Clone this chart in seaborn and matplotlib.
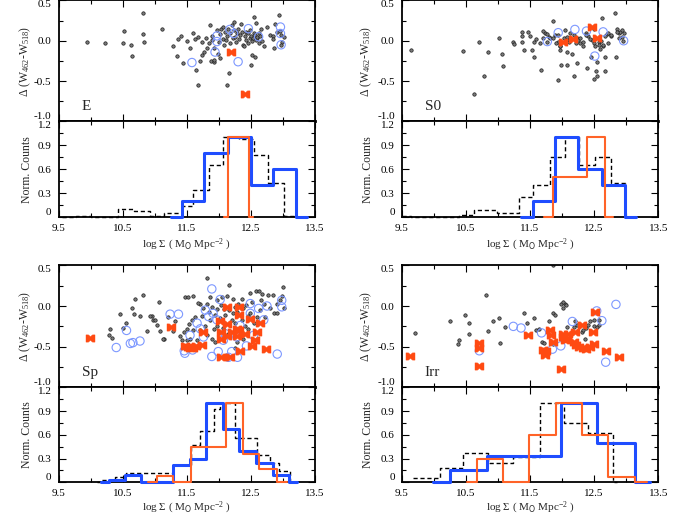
import numpy as np
import pandas as pd
import seaborn as sns
import matplotlib
matplotlib.use("Agg")
import matplotlib.pyplot as plt
from matplotlib.path import Path

# ---- scatter data: (log Sigma, Delta(W462-W518)) ----
e_grey = [(9.95, -0.01), (10.23, -0.03), (10.50, -0.03), (10.52, 0.12), (10.63, -0.05), (10.64, -0.19),
          (10.81, 0.34), (10.81, 0.08), (10.84, -0.02), (11.11, 0.14), (11.28, -0.06), (11.34, -0.19),
          (11.36, 0.02), (11.41, 0.06), (11.44, -0.28), (11.51, 0.00), (11.55, -0.09), (11.59, 0.09),
          (11.63, 0.02), (11.65, -0.36), (11.67, 0.05), (11.68, -0.55), (11.71, -0.25), (11.73, -0.18),
          (11.74, -0.02), (11.77, -0.14), (11.80, 0.03), (11.82, -0.09), (11.85, -0.03), (11.86, 0.19),
          (11.87, -0.25), (11.89, 0.01), (11.90, 0.06), (11.93, -0.09), (11.93, -0.26), (11.97, 0.13),
          (11.98, -0.16), (12.00, -0.01), (12.01, 0.08), (12.02, -0.22), (12.03, 0.15), (12.06, 0.02),
          (12.07, 0.17), (12.08, -0.05), (12.10, 0.11), (12.11, 0.01), (12.12, -0.55), (12.13, 0.06),
          (12.15, 0.15), (12.16, -0.40), (12.17, -0.03), (12.18, 0.09), (12.20, 0.19), (12.22, 0.03),
          (12.23, 0.13), (12.24, 0.23), (12.25, 0.05), (12.27, -0.01), (12.28, 0.09), (12.30, 0.15),
          (12.32, 0.02), (12.33, 0.07), (12.34, 0.21), (12.36, 0.11), (12.37, -0.05), (12.39, -0.07),
          (12.41, 0.06), (12.42, 0.11), (12.43, 0.01), (12.45, -0.03), (12.46, 0.09), (12.48, 0.03),
          (12.49, 0.13), (12.50, 0.06), (12.51, 0.00), (12.52, -0.18), (12.53, 0.04), (12.54, 0.09),
          (12.55, 0.30), (12.56, 0.07), (12.58, 0.22), (12.58, 0.01), (12.59, 0.03), (12.60, 0.05),
          (12.62, 0.09), (12.63, -0.03), (12.64, 0.06), (12.65, 0.15), (12.67, 0.00), (12.71, -0.07),
          (12.75, 0.17), (12.80, 0.07), (12.84, 0.06), (12.85, 0.02), (12.86, -0.09), (12.88, 0.21),
          (12.90, 0.11), (12.94, 0.32), (12.95, 0.12), (12.97, 0.07), (12.98, -0.01), (12.97, -0.05),
          (13.01, 0.05), (12.50, -0.30), (12.56, -0.20), (11.92, -0.24)]
e_circ = [(11.58, -0.27), (11.94, -0.14), (11.97, 0.06), (11.97, -0.01), (12.17, 0.14), (12.23, 0.09),
          (12.30, -0.26), (12.46, 0.15), (12.62, 0.05), (12.96, 0.17), (12.96, 0.09), (12.97, -0.05)]
e_bow = [(12.19, -0.145), (12.41, -0.66)]

s0_grey = [(9.64, -0.11), (10.45, -0.13), (10.62, -0.66), (10.70, -0.02), (10.78, -0.44), (10.84, -0.14),
           (11.02, 0.04), (11.07, -0.17), (11.08, -0.31), (11.24, -0.02), (11.25, -0.04), (11.37, 0.11),
           (11.37, 0.06), (11.37, -0.02), (11.41, -0.12), (11.47, 0.11), (11.50, 0.06), (11.53, -0.12),
           (11.57, -0.20), (11.57, -0.02), (11.60, 0.02), (11.66, -0.03), (11.67, -0.36), (11.71, 0.03),
           (11.73, 0.09), (11.76, -0.01), (11.79, 0.05), (11.86, 0.24), (11.89, 0.07), (11.93, -0.49),
           (11.94, -0.01), (11.96, -0.12), (11.97, -0.07), (11.99, -0.30), (12.03, 0.03), (12.07, -0.14),
           (12.08, -0.30), (12.11, 0.01), (12.12, 0.09), (12.15, -0.16), (12.18, 0.07), (12.19, -0.44),
           (12.23, -0.28), (12.24, 0.03), (12.28, -0.03), (12.33, -0.07), (12.38, 0.09), (12.39, -0.34),
           (12.41, 0.06), (12.45, -0.20), (12.46, 0.01), (12.49, 0.14), (12.50, -0.47), (12.51, 0.03),
           (12.53, -0.38), (12.54, -0.26), (12.55, -0.44), (12.58, -0.01), (12.62, 0.28), (12.64, -0.07),
           (12.67, -0.20), (12.67, -0.37), (12.70, 0.08), (12.72, -0.03), (12.76, 0.06), (12.83, 0.34),
           (12.84, -0.20), (12.85, 0.15), (12.88, 0.09), (12.90, 0.11), (12.93, 0.05), (12.95, 0.00),
           (12.96, 0.09), (11.71, 0.12), (11.76, 0.08), (11.81, 0.03), (11.86, 0.04), (11.91, -0.03),
           (11.94, 0.07), (11.97, -0.07), (12.05, 0.13), (12.07, 0.05), (12.11, -0.01), (12.22, -0.03),
           (12.25, 0.01), (12.28, 0.04), (12.32, -0.02), (12.38, 0.07), (12.43, 0.02), (12.49, -0.03),
           (12.51, -0.07), (12.57, -0.05), (12.59, -0.10), (12.60, 0.00), (12.64, -0.05), (12.67, 0.06),
           (12.72, 0.09), (12.76, 0.07), (12.85, 0.11), (12.89, 0.04), (12.93, 0.13)]
s0_circ = [(11.77, -0.01), (11.94, 0.10), (12.20, 0.14), (12.38, 0.12), (12.51, -0.19), (12.64, 0.11),
           (12.96, 0.00)]
s0_bow = [(12.01, -0.01), (12.17, 0.02), (12.46, 0.17), (12.55, 0.04)]

sp_grey = [(10.28, -0.35), (10.30, -0.28), (10.33, -0.39), (10.46, -0.10), (10.50, -0.27), (10.55, -0.21),
           (10.64, -0.03), (10.67, -0.10), (10.69, 0.09), (10.77, -0.12), (10.81, 0.14), (10.88, -0.31),
           (10.95, -0.12), (10.98, -0.17), (11.03, -0.23), (11.06, 0.05), (11.08, -0.31), (11.14, -0.40),
           (11.21, -0.13), (11.32, -0.19), (11.40, -0.37), (10.93, -0.12), (11.00, -0.17), (11.13, -0.40),
           (11.28, -0.31), (11.47, 0.11), (11.52, 0.11), (11.59, 0.12), (11.82, 0.35), (11.86, 0.11),
           (12.16, 0.26), (12.13, 0.12), (12.22, 0.09), (12.49, 0.16), (12.58, 0.18), (12.62, 0.19),
           (12.68, 0.15), (12.77, 0.14), (12.85, 0.14), (13.00, 0.23), (12.98, 0.12), (12.95, 0.07),
           (13.01, -0.02), (12.86, -0.08), (12.91, -0.09), (12.80, -0.03), (12.72, -0.13), (12.49, -0.09),
           (12.51, 0.05), (12.43, 0.01), (12.38, -0.03), (12.30, 0.03), (12.25, -0.01), (12.22, -0.08),
           (12.16, -0.05), (12.08, -0.04), (12.03, 0.01), (11.97, -0.04), (11.94, -0.11), (11.90, -0.01),
           (11.84, -0.07), (11.76, -0.03), (11.71, 0.03), (11.67, 0.04), (11.63, -0.13), (11.58, -0.17),
           (11.54, -0.22), (11.50, -0.28), (11.45, -0.32), (11.42, -0.42), (11.55, -0.40), (11.66, -0.42),
           (11.71, -0.30), (11.79, -0.24), (11.86, -0.17), (11.92, -0.28), (11.97, -0.24), (12.02, -0.15),
           (12.10, -0.11), (12.20, -0.17), (12.25, -0.21), (12.36, -0.17), (12.41, -0.24), (12.46, -0.28),
           (12.54, -0.21), (12.59, -0.13), (12.64, -0.05), (12.70, 0.03), (11.81, -0.36), (11.89, -0.40),
           (11.94, -0.44), (12.28, -0.44), (12.38, -0.40), (12.25, -0.52), (11.71, -0.48), (11.50, -0.42),
           (11.81, 0.03), (11.97, 0.07), (12.05, 0.11), (12.28, -0.07), (12.36, 0.09), (11.60, -0.30),
           (11.74, -0.12), (12.06, -0.27), (12.15, -0.34), (12.45, -0.12), (12.66, 0.08), (12.90, 0.02)]
sp_circ = [(10.40, -0.51), (10.56, -0.30), (10.62, -0.46), (10.66, -0.45), (10.77, -0.43), (11.24, -0.10),
           (11.37, -0.10), (11.47, -0.58), (11.46, -0.55), (11.89, 0.21), (12.02, 0.08), (11.89, -0.62),
           (12.15, -0.63), (12.29, -0.63), (12.43, -0.49), (12.91, -0.59), (12.98, 0.07), (12.98, -0.01),
           (12.75, 0.00), (12.49, 0.03), (11.66, -0.21), (11.84, -0.13), (11.91, -0.09), (11.55, -0.36),
           (11.59, -0.54), (11.76, -0.38), (11.99, -0.56), (12.20, -0.56), (12.10, -0.34), (12.33, -0.24),
           (12.49, -0.09), (12.62, -0.03), (12.70, -0.17), (12.54, -0.36), (11.97, -0.17), (11.79, -0.05),
           (12.07, -0.42), (11.71, -0.28), (12.28, -0.38)]
sp_bow = [(9.99, -0.39), (11.26, -0.26), (11.47, -0.49), (11.52, -0.50), (11.55, -0.51), (11.60, -0.51),
          (11.65, -0.49), (11.73, -0.48), (11.75, -0.32), (12.01, -0.19), (12.03, -0.32), (12.04, -0.41),
          (12.04, -0.63), (12.13, -0.01), (12.13, -0.22), (12.13, -0.37), (12.18, -0.63), (12.20, -0.32),
          (12.28, -0.28), (12.29, -0.37), (12.32, -0.01), (12.32, -0.11), (12.32, -0.30), (12.33, -0.55),
          (12.41, -0.34), (12.49, -0.16), (12.51, -0.49), (12.56, -0.42), (12.59, -0.32), (12.64, -0.21),
          (12.74, -0.53)]

irr_grey = [(9.71, -0.33), (10.25, -0.19), (10.37, -0.47), (10.39, -0.42), (10.48, -0.11), (10.55, -0.21),
            (10.55, -0.34), (10.81, 0.14), (10.85, -0.31), (10.92, -0.19), (11.02, -0.15), (11.03, -0.45),
            (11.11, -0.26), (11.41, -0.08), (11.45, -0.21), (11.56, -0.15), (11.60, -0.30), (11.64, -0.28),
            (11.68, -0.44), (11.72, -0.46), (11.80, -0.19), (11.86, -0.09), (11.89, -0.11), (11.86, -0.47),
            (11.99, 0.03), (12.01, -0.03), (12.05, 0.03), (12.06, 0.01), (12.07, -0.26), (12.18, -0.26),
            (12.20, -0.19), (12.23, -0.23), (12.31, -0.32), (12.33, -0.30), (12.37, -0.27), (12.41, -0.23),
            (12.44, -0.19), (12.49, -0.17), (12.50, -0.24), (12.54, -0.26), (12.58, -0.23), (12.57, -0.17),
            (11.86, 0.51), (12.36, -0.40), (12.02, 0.05)]
irr_circ = [(10.71, -0.55), (11.24, -0.25), (11.36, -0.27), (11.68, -0.33), (11.85, -0.53), (11.98, -0.49),
            (12.16, -0.19), (12.54, -0.06), (12.62, -0.18), (12.68, -0.69), (12.84, 0.02)]
irr_bow = [(9.63, -0.62), (10.70, -0.46), (10.70, -0.51), (10.71, -0.74), (11.47, -0.36), (11.70, -0.54),
           (11.73, -0.60), (11.75, -0.55), (11.81, -0.30), (11.82, -0.36), (11.86, -0.44), (11.99, -0.77),
           (12.01, -0.38), (12.02, -0.34), (12.05, -0.42), (12.07, -0.40), (12.10, -0.34), (12.18, -0.44),
           (12.20, -0.32), (12.22, -0.48), (12.27, -0.50), (12.31, -0.23), (12.33, -0.52), (12.38, -0.53),
           (12.44, -0.50), (12.48, -0.32), (12.50, -0.47), (12.51, -0.07), (12.68, -0.55), (12.88, -0.63)]

# ---- histograms: step start x and normalized counts (steps-post) ----
e_blue_x = [11.26, 11.42, 11.77, 12.15, 12.50, 12.85, 13.20, 13.37]
e_blue_y = [0, 0.2, 0.8, 1.0, 0.4, 0.6, 0, 0]
e_orng_x = [12.08, 12.15, 12.47, 12.53]
e_orng_y = [0, 1.0, 0, 0]
e_dash_x = [9.55, 9.78, 10.0, 10.43, 10.67, 10.93, 11.14, 11.42, 11.59, 11.85, 12.07, 12.32, 12.54, 12.77, 13.01, 13.22]
e_dash_y = [0, 0.02, 0, 0.1, 0.08, 0.02, 0.06, 0.14, 0.34, 0.65, 1.0, 0.98, 0.78, 0.43, 0.02, 0.02]

s0_blue_x = [11.36, 11.54, 11.89, 12.25, 12.62, 12.98, 13.16]
s0_blue_y = [0, 0.2, 1.0, 0.6, 0.4, 0, 0]
s0_orng_x = [11.72, 11.86, 12.39, 12.67, 12.80]
s0_orng_y = [0, 0.5, 1.0, 0, 0]
s0_dash_x = [9.5, 9.65, 10.4, 10.62, 10.98, 11.33, 11.55, 11.81, 12.05, 12.27, 12.51, 12.76, 12.98, 13.1]
s0_dash_y = [0.02, 0, 0.03, 0.09, 0.06, 0.25, 0.41, 0.75, 1.0, 0.66, 0.75, 0.43, 0, 0]

sp_blue_x = [10.16, 10.28, 10.54, 10.78, 11.29, 11.55, 11.80, 12.06, 12.32, 12.58, 12.85, 13.10, 13.22]
sp_blue_y = [0, 0.03, 0.09, 0, 0.22, 0.3, 1.0, 0.68, 0.4, 0.24, 0.09, 0, 0]
sp_orng_x = [10.9, 11.03, 11.29, 11.56, 12.11, 12.37, 12.63, 12.90, 13.06]
sp_orng_y = [0, 0.08, 0, 0.45, 1.0, 0.36, 0.17, 0, 0]
sp_dash_x = [10.1, 10.17, 10.38, 10.55, 11.29, 11.56, 11.71, 11.92, 12.02, 12.25, 12.59, 12.79, 12.93, 13.11, 13.15]
sp_dash_y = [0, 0.03, 0.07, 0.12, 0.22, 0.47, 0.65, 0.93, 1.0, 0.56, 0.35, 0.25, 0.14, 0, 0]

irr_blue_x = [9.98, 10.25, 10.83, 11.99, 12.55, 13.13, 13.37]
irr_blue_y = [0, 0.16, 0.33, 1.0, 0.5, 0, 0]
irr_orng_x = [10.51, 10.67, 11.08, 11.49, 11.91, 12.31, 12.72, 13.13, 13.33]
irr_orng_y = [0, 0.3, 0, 0.6, 1.0, 0.6, 0.07, 0, 0]
irr_dash_x = [9.68, 10.1, 10.46, 10.85, 11.24, 11.65, 12.03, 12.41, 12.8, 12.85]
irr_dash_y = [0.05, 0.18, 0.37, 0.25, 0.32, 1.0, 0.75, 0.62, 0, 0]

panels = [
    ("E", e_grey, e_circ, e_bow, (e_blue_x, e_blue_y), (e_orng_x, e_orng_y), (e_dash_x, e_dash_y)),
    ("S0", s0_grey, s0_circ, s0_bow, (s0_blue_x, s0_blue_y), (s0_orng_x, s0_orng_y), (s0_dash_x, s0_dash_y)),
    ("Sp", sp_grey, sp_circ, sp_bow, (sp_blue_x, sp_blue_y), (sp_orng_x, sp_orng_y), (sp_dash_x, sp_dash_y)),
    ("Irr", irr_grey, irr_circ, irr_bow, (irr_blue_x, irr_blue_y), (irr_orng_x, irr_orng_y), (irr_dash_x, irr_dash_y)),
]

sns.set_style("ticks")
plt.rcParams["font.family"] = ["Liberation Serif", "DejaVu Serif"]
plt.rcParams["mathtext.default"] = "regular"

BLUE = "#1f4dff"
ORNG = "#ff6328"
BOW = "#ff4a12"
CIRC = "#7d98ff"

# "H"-like bowtie used for the orange points
bowtie = Path([(-1, -0.8), (-0.45, -0.8), (0, -0.4), (0.45, -0.8), (1, -0.8), (1, 0.8),
               (0.45, 0.8), (0, 0.4), (-0.45, 0.8), (-1, 0.8), (-1, -0.8)],
              [Path.MOVETO] + [Path.LINETO] * 9 + [Path.CLOSEPOLY])

fig = plt.figure(figsize=(6.86, 5.18), dpi=100)

lefts = [0.0853, 0.5856, 0.0853, 0.5856]
sc_bot = [0.7656, 0.7656, 0.2521, 0.2521]
sc_h = [0.2336, 0.2336, 0.2357, 0.2357]
hi_bot = [0.5805, 0.5805, 0.0689, 0.0689]
hi_h = [0.1851, 0.1851, 0.1832, 0.1832]
W = 0.374


def style_ax(ax):
    for s in ax.spines.values():
        s.set_linewidth(1.3)
        s.set_color("black")
    ax.tick_params(which="both", direction="in", top=True, right=True, width=0.8,
                   labelsize=8, pad=5, colors="black")
    ax.tick_params(which="major", length=5)
    ax.tick_params(which="minor", length=3)
    ax.set_xlim(9.5, 13.5)
    ax.set_xticks([9.5, 10.5, 11.5, 12.5, 13.5])
    ax.set_xticks([10, 11, 12, 13], minor=True)


for i, (name, grey, circ, bow, blue, orng, dash) in enumerate(panels):
    ylab_x = -0.10 if i % 2 == 0 else -0.108
    ax = fig.add_axes([lefts[i], sc_bot[i], W, sc_h[i]])
    g = pd.DataFrame(grey, columns=["x", "y"])
    c = pd.DataFrame(circ, columns=["x", "y"])
    b = pd.DataFrame(bow, columns=["x", "y"])
    sns.scatterplot(data=g, x="x", y="y", ax=ax, s=6, color="#7a7a7a", edgecolor="#1a1a1a",
                    linewidth=0.5, zorder=2)
    sns.scatterplot(data=c, x="x", y="y", ax=ax, s=36, facecolor="none", edgecolor=CIRC,
                    linewidth=0.8, zorder=3)
    sns.scatterplot(data=b, x="x", y="y", ax=ax, s=42, marker=bowtie, color=BOW, edgecolor=BOW,
                    linewidth=0.3, zorder=4)
    style_ax(ax)
    ax.spines["bottom"].set_linewidth(2.0)
    ax.set_ylim(-1.0, 0.5)
    ax.set_yticks([-1.0, -0.5, 0.0, 0.5])
    ax.set_yticklabels(["-1.0", "-0.5", "0.0", "0.5"])
    ax.set_yticks([-0.75, -0.25, 0.25], minor=True)
    ax.tick_params(axis="x", labelbottom=False)
    yt = ax.yaxis.get_major_ticks()
    yt[0].label1.set_va("bottom")
    yt[-1].label1.set_va("top")
    ax.set_xlabel("")
    ax.set_ylabel(r"$\Delta$ (W$_{462}$-W$_{518}$)", fontsize=8.5)
    ax.yaxis.set_label_coords(ylab_x, 0.5)
    ax.text(0.09, 0.125, name, transform=ax.transAxes, fontsize=11, va="center", ha="left")

    hx = fig.add_axes([lefts[i], hi_bot[i], W, hi_h[i]])
    hx.step(dash[0], dash[1], where="post", color="black", lw=1.0, ls=(0, (3, 2)), clip_on=False, zorder=2)
    hx.step(blue[0], blue[1], where="post", color=BLUE, lw=2.2, clip_on=False, zorder=3)
    hx.step(orng[0], orng[1], where="post", color=ORNG, lw=1.5, clip_on=False, zorder=4)
    style_ax(hx)
    hx.set_ylim(0, 1.2)
    hx.set_yticks([0, 0.3, 0.6, 0.9, 1.2])
    hx.set_yticklabels(["0", "0.3", "0.6", "0.9", "1.2"])
    hx.set_yticks([0.15, 0.45, 0.75, 1.05], minor=True)
    hx.set_xticklabels(["9.5", "10.5", "11.5", "12.5", "13.5"])
    yt = hx.yaxis.get_major_ticks()
    yt[0].label1.set_va("bottom")
    yt[-1].label1.set_va("top")
    hx.set_ylabel("Norm. Counts", fontsize=8.5)
    hx.yaxis.set_label_coords(ylab_x, 0.5)
    hx.set_xlabel(r"log $\Sigma$ ( M$_{\rm O}$ Mpc$^{-2}$ )", fontsize=8)
    hx.xaxis.set_label_coords(0.5, -0.205 if i < 2 else -0.19)

fig.savefig("out.png", dpi=100)
